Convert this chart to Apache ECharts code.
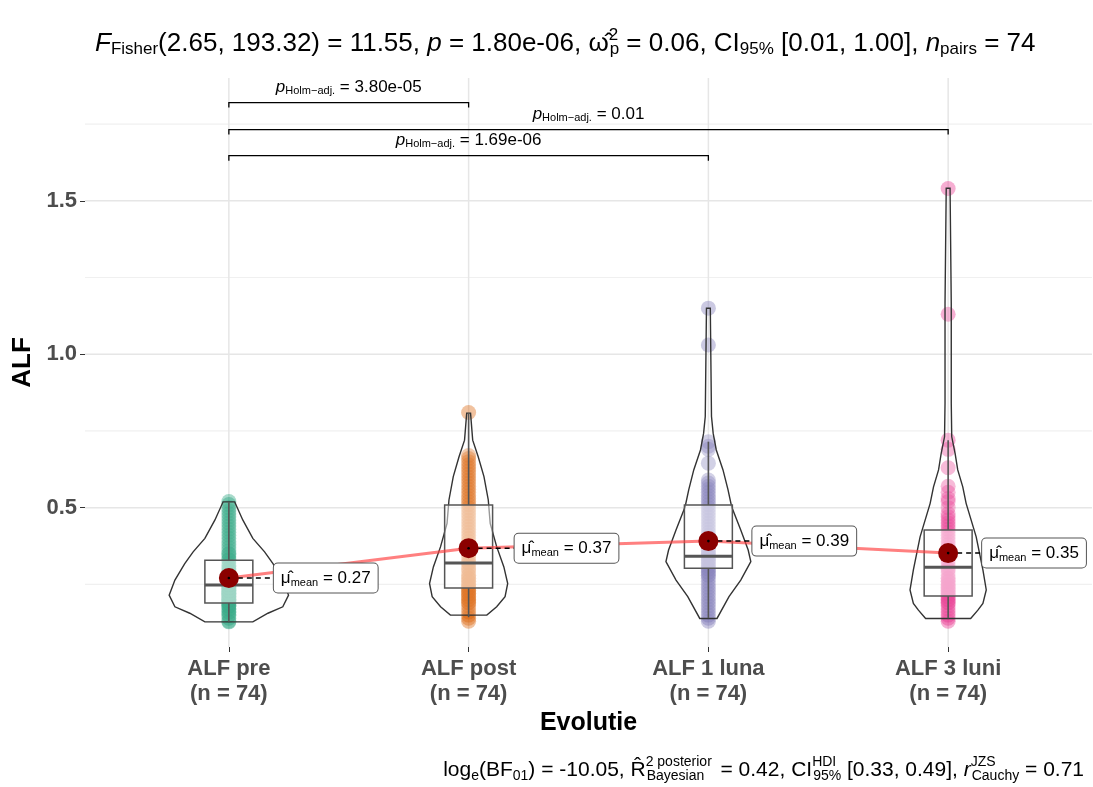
<!DOCTYPE html>
<html><head><meta charset="utf-8">
<script src="https://cdn.jsdelivr.net/npm/echarts@6.0.0/dist/echarts.min.js"></script>
<style>html,body{margin:0;padding:0;background:#fff}#c{width:1093px;height:787px}</style>
</head><body><div id="c"></div>
<script>
// ---------- data ----------
const categories = ['ALF pre', 'ALF post', 'ALF 1 luna', 'ALF 3 luni'];
const groupN = [74, 74, 74, 74];
const ptsPre = [0.128,0.13,0.14,0.15,0.15,0.16,0.16,0.17,0.17,0.18,0.18,0.18,0.19,0.19,0.19,0.20,0.20,0.20,0.20,0.21,0.21,0.21,0.22,0.22,0.22,0.22,0.23,0.23,0.23,0.24,0.24,0.24,0.25,0.25,0.25,0.26,0.26,0.26,0.27,0.27,0.28,0.28,0.29,0.29,0.30,0.30,0.31,0.31,0.32,0.33,0.33,0.34,0.35,0.35,0.36,0.37,0.38,0.39,0.40,0.41,0.42,0.43,0.44,0.45,0.46,0.47,0.48,0.49,0.50,0.51,0.52];
const ptsPost = [0.13,0.14,0.15,0.16,0.17,0.18,0.19,0.19,0.20,0.20,0.21,0.21,0.22,0.22,0.23,0.23,0.24,0.24,0.25,0.25,0.26,0.26,0.27,0.27,0.28,0.28,0.29,0.30,0.30,0.31,0.32,0.32,0.33,0.34,0.35,0.36,0.37,0.38,0.39,0.40,0.41,0.42,0.43,0.44,0.45,0.46,0.47,0.48,0.49,0.50,0.51,0.52,0.53,0.54,0.55,0.56,0.57,0.58,0.59,0.60,0.61,0.62,0.63,0.64,0.65,0.66,0.67,0.81];
const pts1Luna = [0.13,0.14,0.15,0.16,0.17,0.18,0.19,0.20,0.21,0.22,0.23,0.24,0.25,0.26,0.27,0.28,0.28,0.29,0.29,0.30,0.30,0.31,0.31,0.32,0.32,0.33,0.33,0.34,0.34,0.35,0.35,0.36,0.36,0.37,0.38,0.38,0.39,0.40,0.41,0.42,0.43,0.44,0.45,0.46,0.47,0.48,0.49,0.50,0.51,0.52,0.53,0.54,0.55,0.56,0.57,0.58,0.59,0.645,0.69,0.70,0.715,1.03,1.15];
const pts3Luni = [0.13,0.14,0.15,0.16,0.17,0.18,0.19,0.19,0.20,0.20,0.21,0.21,0.22,0.22,0.23,0.23,0.24,0.24,0.25,0.25,0.26,0.26,0.27,0.27,0.28,0.29,0.30,0.30,0.31,0.32,0.33,0.34,0.35,0.36,0.37,0.38,0.39,0.40,0.41,0.42,0.43,0.44,0.45,0.46,0.47,0.48,0.50,0.52,0.53,0.55,0.57,0.63,0.69,0.72,1.13,1.54];
const groupPoints = [ptsPre, ptsPost, pts1Luna, pts3Luni];

// violin outline: [value, half-width in category units]
const violinPre  = [[0.519,0.024],[0.46,0.058],[0.40,0.10],[0.356,0.149],[0.318,0.184],[0.264,0.225],[0.215,0.249],[0.177,0.225],[0.156,0.163],[0.128,0.10]];
const violinPost = [[0.808,0.008],[0.72,0.017],[0.666,0.040],[0.601,0.064],[0.525,0.082],[0.449,0.090],[0.373,0.117],[0.307,0.147],[0.253,0.163],[0.210,0.152],[0.177,0.117],[0.150,0.076]];
const violin1Luna = [[1.15,0.008],[0.797,0.013],[0.742,0.02],[0.688,0.033],[0.623,0.061],[0.558,0.082],[0.503,0.097],[0.427,0.135],[0.362,0.166],[0.324,0.177],[0.264,0.135],[0.210,0.086],[0.139,0.036]];
const violin3Luni = [[1.541,0.008],[1.166,0.013],[0.84,0.013],[0.731,0.015],[0.677,0.029],[0.623,0.040],[0.568,0.061],[0.514,0.075],[0.405,0.117],[0.297,0.145],[0.232,0.159],[0.188,0.145],[0.166,0.124],[0.139,0.094]];
const violins = [violinPre, violinPost, violin1Luna, violin3Luni];

const boxLow  = [0.127, 0.143, 0.14, 0.14];
const boxQ1   = [0.189, 0.238, 0.303, 0.212];
const boxMed  = [0.248, 0.320, 0.342, 0.306];
const boxQ3   = [0.329, 0.509, 0.509, 0.427];
const boxHigh = [0.518, 0.808, 0.715, 0.72];
const means   = [0.271, 0.368, 0.391, 0.352];

const pairs = [[0,1],[0,3],[0,2]];
const pairP = ['3.80e-05', '0.01', '1.69e-06'];
const pairY = [1.82, 1.732, 1.647];

const yTickLabels = [0.5, 1.0, 1.5];
const yMinorLines = [0.25, 0.75, 1.25, 1.75];
const xTicks = [0, 1, 2, 3];

// ---------- styles ----------
const FONT = '"Liberation Sans", Arial, sans-serif';
const colors = ['#1B9E77', '#D95F02', '#7570B3', '#E7298A'];
const X_MIN = -0.6, X_MAX = 3.6, Y_MIN = 0.046, Y_MAX = 1.9;
const BOX_HALF = 0.1;
const LABEL_GAP = [45, 46, 44, 34]; // px from mean point to its label box (repel offsets)

const chart = echarts.init(document.getElementById('c'), null, {renderer: 'canvas'});

function lineEl(a, b, stroke, w, dash) {
  return {type: 'line', shape: {x1: a[0], y1: a[1], x2: b[0], y2: b[1]},
          style: {stroke: stroke, lineWidth: w, lineDash: dash || null}};
}

const series = [];
// grid lines
series.push({
  type: 'custom', z: 0, silent: true, clip: true,
  data: yMinorLines.map(v => [0, v]),
  renderItem: (p, api) => lineEl(api.coord([X_MIN, yMinorLines[p.dataIndex]]), api.coord([X_MAX, yMinorLines[p.dataIndex]]), '#F0F0F0', 1.2)
});
series.push({
  type: 'custom', z: 0, silent: true, clip: true,
  data: yTickLabels.map(v => [0, v]),
  renderItem: (p, api) => lineEl(api.coord([X_MIN, yTickLabels[p.dataIndex]]), api.coord([X_MAX, yTickLabels[p.dataIndex]]), '#E6E6E6', 1.5)
});
series.push({
  type: 'custom', z: 0, silent: true, clip: true,
  data: xTicks.map(v => [v, 1]),
  renderItem: (p, api) => lineEl(api.coord([xTicks[p.dataIndex], Y_MIN]), api.coord([xTicks[p.dataIndex], Y_MAX]), '#E6E6E6', 1.5)
});
// points
groupPoints.forEach((arr, i) => {
  series.push({
    type: 'scatter', z: 2, silent: true,
    symbolSize: 15,
    itemStyle: {color: colors[i], opacity: 0.38},
    data: arr.map(v => [i, v])
  });
});
// violins
series.push({
  type: 'custom', z: 3, silent: true,
  data: categories.map((c, i) => [i, means[i]]),
  renderItem: (p, api) => {
    const i = p.dataIndex, prof = violins[i];
    const right = prof.map(([y, w]) => api.coord([i + w, y]));
    const left = prof.slice().reverse().map(([y, w]) => api.coord([i - w, y]));
    return {type: 'polygon', shape: {points: right.concat(left)},
            style: {fill: 'rgba(255,255,255,0.15)', stroke: '#333', lineWidth: 1.4}};
  }
});
// boxes
series.push({
  type: 'custom', z: 4, silent: true,
  data: categories.map((c, i) => [i, boxMed[i]]),
  renderItem: (p, api) => {
    const i = p.dataIndex;
    const tl = api.coord([i - BOX_HALF, boxQ3[i]]), br = api.coord([i + BOX_HALF, boxQ1[i]]);
    const m1 = api.coord([i - BOX_HALF, boxMed[i]]), m2 = api.coord([i + BOX_HALF, boxMed[i]]);
    return {type: 'group', children: [
      lineEl(api.coord([i, boxHigh[i]]), api.coord([i, boxQ3[i]]), '#555', 1.6),
      lineEl(api.coord([i, boxQ1[i]]), api.coord([i, boxLow[i]]), '#555', 1.6),
      {type: 'rect', shape: {x: tl[0], y: tl[1], width: br[0] - tl[0], height: br[1] - tl[1]},
       style: {fill: 'rgba(255,255,255,0.5)', stroke: '#555', lineWidth: 1.5}},
      lineEl(m1, m2, '#555', 3)
    ]};
  }
});
// mean line
series.push({
  type: 'line', z: 5, silent: true, symbol: 'none',
  data: means.map((m, i) => [i, m]),
  lineStyle: {color: 'rgba(255,60,60,0.65)', width: 3}
});
// dashed connectors
series.push({
  type: 'custom', z: 6, silent: true,
  data: means.map((m, i) => [i, m]),
  renderItem: (p, api) => {
    const c = api.coord([p.dataIndex, means[p.dataIndex]]);
    return lineEl(c, [c[0] + LABEL_GAP[p.dataIndex], c[1]], '#000', 1.5, [5, 4]);
  }
});
// mean points with labels
series.push({
  type: 'scatter', z: 7, silent: true, symbolSize: 20,
  itemStyle: {color: '#8B0000', opacity: 1},
  data: means.map((m, i) => ({value: [i, m], label: {distance: LABEL_GAP[i] - 10}})),
  label: {
    show: true, position: 'right', distance: 35,
    formatter: p => '{mu|\u03BC\u0302}{sub|mean}{t| = ' + p.value[1].toFixed(2) + '}',
    backgroundColor: '#fff', borderColor: '#555', borderWidth: 1, borderRadius: 4,
    padding: [5, 7, 4, 7],
    rich: {
      mu: {fontFamily: FONT, fontSize: 17, color: '#000'},
      sub: {fontFamily: FONT, fontSize: 11, color: '#000', padding: [9, 0, 0, 0]},
      t: {fontFamily: FONT, fontSize: 17, color: '#000'}
    }
  }
});
// center dots of mean points
series.push({
  type: 'custom', z: 8, silent: true,
  data: means.map((m, i) => [i, m]),
  renderItem: (p, api) => {
    const c = api.coord([p.dataIndex, means[p.dataIndex]]);
    return {type: 'circle', shape: {cx: c[0], cy: c[1], r: 1.3}, style: {fill: '#000'}};
  }
});
// pairwise brackets
series.push({
  type: 'custom', z: 8, silent: true, clip: false,
  data: pairs.map((pr, k) => [pr[0], pairY[k]]),
  renderItem: (p, api) => {
    const k = p.dataIndex, a = api.coord([pairs[k][0], pairY[k]]), b = api.coord([pairs[k][1], pairY[k]]);
    return {type: 'group', children: [
      {type: 'polyline', shape: {points: [[a[0], a[1] + 5], a, b, [b[0], b[1] + 5]]},
       style: {stroke: '#000', lineWidth: 1.3, fill: null}},
      {type: 'text', x: (a[0] + b[0]) / 2, y: a[1] - 15,
       style: {text: '{it|p}{sub|Holm\u2212adj.}{t| = ' + pairP[k] + '}', align: 'center', verticalAlign: 'middle',
               rich: {
                 it: {fontFamily: FONT, fontSize: 17, fontStyle: 'italic', fill: '#000'},
                 sub: {fontFamily: FONT, fontSize: 11, fill: '#000', padding: [7, 0, 0, 0]},
                 t: {fontFamily: FONT, fontSize: 17, fill: '#000'}
               }}}
    ]};
  }
});

const titleRich = {
  n: {fontFamily: FONT, fontSize: 26, fontWeight: 'normal', color: '#000'},
  it: {fontFamily: FONT, fontSize: 26, fontStyle: 'italic', fontWeight: 'normal', color: '#000'},
  sub: {fontFamily: FONT, fontSize: 17, fontWeight: 'normal', color: '#000', padding: [12, 0, 0, 0]},
  supS: {fontFamily: FONT, fontSize: 17, fontWeight: 'normal', color: '#000', padding: [0, 0, 16, 0], width: 1}
};
const capRich = {
  n: {fontFamily: FONT, fontSize: 21, fontWeight: 'normal', color: '#000'},
  it: {fontFamily: FONT, fontSize: 21, fontStyle: 'italic', fontWeight: 'normal', color: '#000'},
  sub: {fontFamily: FONT, fontSize: 14, fontWeight: 'normal', color: '#000', padding: [12, 0, 0, 0]},
  subW: {fontFamily: FONT, fontSize: 14, fontWeight: 'normal', color: '#000', padding: [12, 0, 0, 0], width: 68},
  supS: {fontFamily: FONT, fontSize: 14, fontWeight: 'normal', color: '#000', padding: [0, 0, 16, 0], width: 1}
};

chart.setOption({
  animation: false,
  backgroundColor: '#fff',
  title: [{
    text: '{it|F}{sub|Fisher}{n|(2.65, 193.32) = 11.55, }{it|p}{n| = 1.80e-06, }{n|\u03C9\u0302}{supS|2}{sub|p}{n| = 0.06, CI}{sub|95%}{n| [0.01, 1.00], }{it|n}{sub|pairs}{n| = 74}',
    left: 90, top: 22,
    textStyle: {fontWeight: 'normal', rich: titleRich}
  }, {
    text: '{n|log}{sub|e}{n|(BF}{sub|01}{n|) = -10.05, }{n|R\u0302}{supS|2 posterior}{subW|Bayesian}{n| = 0.42, CI}{supS|HDI}{sub|95%}{n| [0.33, 0.49], }{it|r}{supS|JZS}{sub|Cauchy}{n| = 0.71}',
    right: 4, top: 750,
    textStyle: {fontWeight: 'normal', rich: capRich}
  }],
  grid: {left: 85, right: 1, top: 78, bottom: 140, containLabel: false},
  xAxis: {
    type: 'value', min: X_MIN, max: X_MAX,
    name: 'Evolutie', nameLocation: 'middle', nameGap: 58,
    nameTextStyle: {fontFamily: FONT, fontSize: 25, fontWeight: 'bold', color: '#000'},
    axisLine: {show: false, onZero: false},
    axisTick: {show: true, customValues: xTicks, length: 5, lineStyle: {color: '#333', width: 1}},
    axisLabel: {customValues: xTicks, margin: 9,
      formatter: v => categories[Math.round(v)] + '\n(n = ' + groupN[Math.round(v)] + ')',
      fontFamily: FONT, fontSize: 22, fontWeight: 'bold', color: '#4D4D4D', lineHeight: 25},
    splitLine: {show: false}
  },
  yAxis: {
    type: 'value', min: Y_MIN, max: Y_MAX,
    name: 'ALF', nameLocation: 'middle', nameGap: 45,
    nameTextStyle: {fontFamily: FONT, fontSize: 26, fontWeight: 'bold', color: '#000'},
    axisLine: {show: false, onZero: false},
    axisTick: {show: true, customValues: yTickLabels, length: 5, lineStyle: {color: '#333', width: 1}},
    axisLabel: {customValues: yTickLabels, margin: 8, formatter: v => v.toFixed(1),
      fontFamily: FONT, fontSize: 22, fontWeight: 'bold', color: '#4D4D4D'},
    splitLine: {show: false}
  },
  series: series
});
</script>
</body></html>
